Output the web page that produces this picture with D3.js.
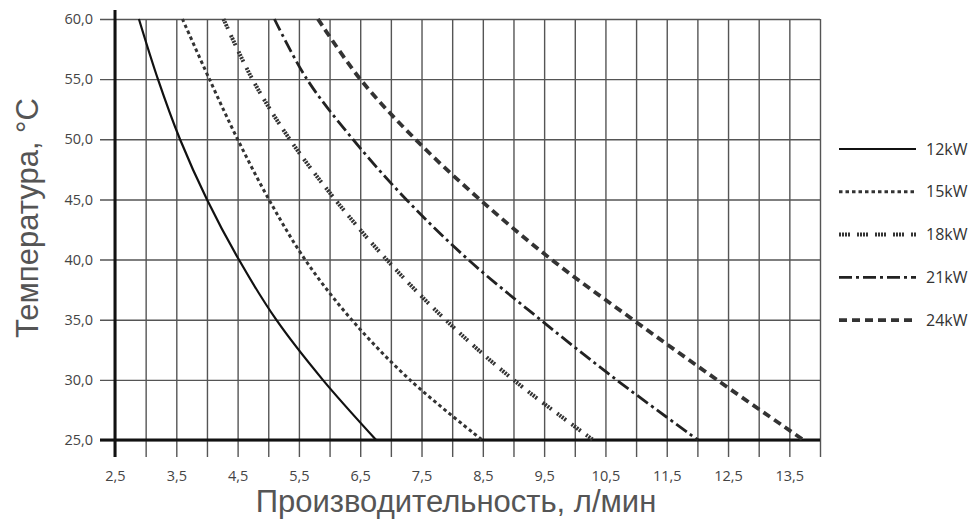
<!DOCTYPE html>
<html><head><meta charset="utf-8">
<script src="https://cdn.jsdelivr.net/npm/d3@7"></script>
<style>
html,body{margin:0;padding:0;background:#fff;}
svg{display:block;}
</style></head>
<body>
<svg id="chart" width="978" height="522"></svg>
<script>
// ---- data ----
const temps = [60, 55, 50, 45, 40, 35, 30, 25];
const flow12 = [2.89, 3.20, 3.56, 4.00, 4.52, 5.13, 5.89, 6.76];
const flow15 = [3.60, 4.04, 4.50, 5.01, 5.60, 6.36, 7.31, 8.49];
const flow18 = [4.27, 4.74, 5.35, 6.09, 6.93, 7.89, 9.00, 10.30];
const flow21 = [5.10, 5.63, 6.38, 7.25, 8.26, 9.44, 10.68, 12.01];
const flow24 = [5.81, 6.50, 7.40, 8.45, 9.62, 10.95, 12.32, 13.73];
const seriesNames = ["12kW", "15kW", "18kW", "21kW", "24kW"];
const xTickValues = [2.5, 3.5, 4.5, 5.5, 6.5, 7.5, 8.5, 9.5, 10.5, 11.5, 12.5, 13.5];
const yTickValues = [25, 30, 35, 40, 45, 50, 55, 60];
const xTitle = "Производительность, л/мин";
const yTitle = "Температура, °C";

// ---- styles ----
const styles = [
  {dash: null, width: 2.2, color: "#111"},
  {dash: "3.5,3", width: 3, color: "#333"},
  {dash: "2,1,2,1,2,1,2,7", width: 4, color: "#333"},
  {dash: "13,4,3,4", width: 2.8, color: "#222"},
  {dash: "8,5", width: 3.8, color: "#333"}
];
const allFlows = [flow12, flow15, flow18, flow21, flow24];

const svg = d3.select("#chart");
const x = d3.scaleLinear().domain([2.5, 14]).range([115, 820]);
const y = d3.scaleLinear().domain([25, 60]).range([440, 19]);
const gridBottom = 457, gridLeft = 100;

const fmt = d => d.toFixed(1).replace(".", ",");

// vertical grid
const gridX = d3.range(2.5, 14.001, 0.5);
const gx = svg.append("g").attr("transform", `translate(0,${gridBottom})`)
  .call(d3.axisBottom(x).tickValues(gridX).tickSize(-(gridBottom - y(60))).tickFormat(""));
gx.select(".domain").remove();
gx.selectAll("line").attr("stroke", "#555").attr("stroke-width", 1.4);

// x labels
const gxl = svg.append("g").attr("transform", `translate(0,${gridBottom})`)
  .call(d3.axisBottom(x).tickValues(xTickValues).tickSize(0).tickPadding(14).tickFormat(fmt));
gxl.select(".domain").remove();
gxl.selectAll("text").attr("font-family", "'Open Sans', sans-serif").attr("font-size", 14.5).attr("fill", "#444");

// horizontal grid + y labels
const gy = svg.append("g").attr("transform", `translate(${gridLeft},0)`)
  .call(d3.axisLeft(y).tickValues(yTickValues).tickSize(-(x(14) - gridLeft)).tickPadding(7).tickFormat(fmt));
gy.select(".domain").remove();
gy.selectAll("line").attr("stroke", "#555").attr("stroke-width", 1.4);
gy.selectAll("text").attr("font-family", "'Open Sans', sans-serif").attr("font-size", 14.5).attr("fill", "#444");

// thick axes
svg.append("line").attr("x1", x(2.5)).attr("x2", x(2.5)).attr("y1", 10).attr("y2", gridBottom)
  .attr("stroke", "#111").attr("stroke-width", 3);
svg.append("line").attr("x1", gridLeft).attr("x2", x(14)).attr("y1", y(25)).attr("y2", y(25))
  .attr("stroke", "#111").attr("stroke-width", 3);

// curves
const line = d3.line().x(d => x(d[0])).y(d => y(d[1])).curve(d3.curveCatmullRom);
allFlows.forEach((flows, i) => {
  const pts = flows.map((f, j) => [f, temps[j]]);
  const p = svg.append("path").attr("d", line(pts)).attr("fill", "none")
    .attr("stroke", styles[i].color).attr("stroke-width", styles[i].width);
  if (styles[i].dash) p.attr("stroke-dasharray", styles[i].dash);
});

// legend
const lg = svg.append("g");
seriesNames.forEach((n, i) => {
  const yy = 149 + i * 42.8;
  const l = lg.append("line").attr("x1", 839).attr("x2", 916).attr("y1", yy).attr("y2", yy)
    .attr("stroke", styles[i].color).attr("stroke-width", styles[i].width);
  if (styles[i].dash) l.attr("stroke-dasharray", styles[i].dash);
  lg.append("text").attr("x", 926).attr("y", yy).attr("dy", "0.35em")
    .attr("font-family", "'Open Sans', sans-serif").attr("font-size", 16).attr("fill", "#333").text(n);
});

// titles
svg.append("text").attr("x", 456).attr("y", 512).attr("text-anchor", "middle")
  .attr("font-family", "'Liberation Sans', Arial, sans-serif").attr("font-size", 31).attr("fill", "#555").text(xTitle);
svg.append("text").attr("transform", "translate(38,218) rotate(-90)").attr("text-anchor", "middle")
  .attr("font-family", "'Liberation Sans', Arial, sans-serif").attr("font-size", 31).attr("fill", "#555").text(yTitle);
</script>
</body></html>
